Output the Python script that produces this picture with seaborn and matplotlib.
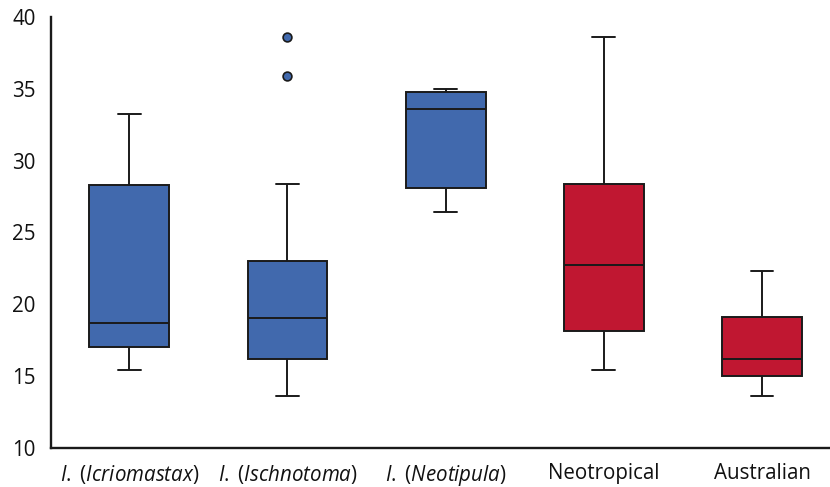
import matplotlib
matplotlib.use('Agg')
import pandas as pd
import seaborn as sns
import matplotlib.pyplot as plt

# five-number summaries: whisker low, Q1, median, Q3, whisker high
groups = ['I. (Icriomastax)', 'I. (Ischnotoma)', 'I. (Neotipula)', 'Neotropical', 'Australian']
icriomastax = [15.45, 17.05, 18.7, 28.3, 33.25]
ischnotoma = [13.65, 16.2, 19.05, 23.0, 28.4]
neotipula = [26.4, 28.1, 33.6, 34.75, 35.0]
neotropical = [15.45, 18.15, 22.75, 28.4, 38.6]
australian = [13.65, 15.0, 16.2, 19.1, 22.3]
ischnotoma_outliers = [35.9, 38.6]

tick_labels = [r'$\mathit{I.}$ ($\mathit{Icriomastax}$)',
               r'$\mathit{I.}$ ($\mathit{Ischnotoma}$)',
               r'$\mathit{I.}$ ($\mathit{Neotipula}$)',
               'Neotropical', 'Australian']
blue = '#4169ad'
red = '#c01731'
palette = [blue, blue, blue, red, red]

sns.set_style('white')
plt.rcParams['font.family'] = ['Open Sans', 'DejaVu Sans']
plt.rcParams['mathtext.fontset'] = 'custom'
plt.rcParams['mathtext.rm'] = 'Open Sans'
plt.rcParams['mathtext.it'] = 'Open Sans:italic'

df = pd.DataFrame({
    'group': [g for g, vals in zip(groups, [icriomastax, ischnotoma, neotipula, neotropical, australian]) for _ in vals],
    'value': icriomastax + ischnotoma + neotipula + neotropical + australian,
})
out_df = pd.DataFrame({'group': [groups[1]] * len(ischnotoma_outliers), 'value': ischnotoma_outliers})

fig = plt.figure(figsize=(8.3, 4.87), dpi=100)
ax = fig.add_axes([0.0614, 0.0801, 0.9386, 0.885])

sns.boxplot(data=df, x='group', y='value', hue='group', palette=palette, legend=False,
            order=groups, whis=(0, 100), width=0.505, linewidth=1.4, linecolor='#1a1a1a',
            showfliers=False, saturation=1, ax=ax)
sns.scatterplot(data=out_df, x='group', y='value', color=blue, edgecolor='#1a1a1a',
                linewidth=1.2, s=40, zorder=5, ax=ax)

# shorter whisker caps like the original
for c in ax.containers:
    for cap in getattr(c, 'caps', []):
        xs = cap.get_xdata()
        mid = (xs[0] + xs[1]) / 2
        cap.set_xdata([mid - 0.072, mid + 0.072])

ax.set_ylim(10, 40)
ax.set_xlim(-0.495, 4.43)
ax.set_yticks([10, 15, 20, 25, 30, 35, 40])
ax.set_xticks(range(5))
ax.set_xticklabels(tick_labels)
ax.tick_params(axis='both', length=0, labelsize=14.8, colors='#111111')
ax.tick_params(axis='y', pad=11)
ax.tick_params(axis='x', pad=11)
ax.set_xlabel('')
ax.set_ylabel('')
for s in ['top', 'right']:
    ax.spines[s].set_visible(False)
for s in ['left', 'bottom']:
    ax.spines[s].set_color('#1a1a1a')
    ax.spines[s].set_linewidth(1.7)

fig.savefig('out.png', dpi=100)
